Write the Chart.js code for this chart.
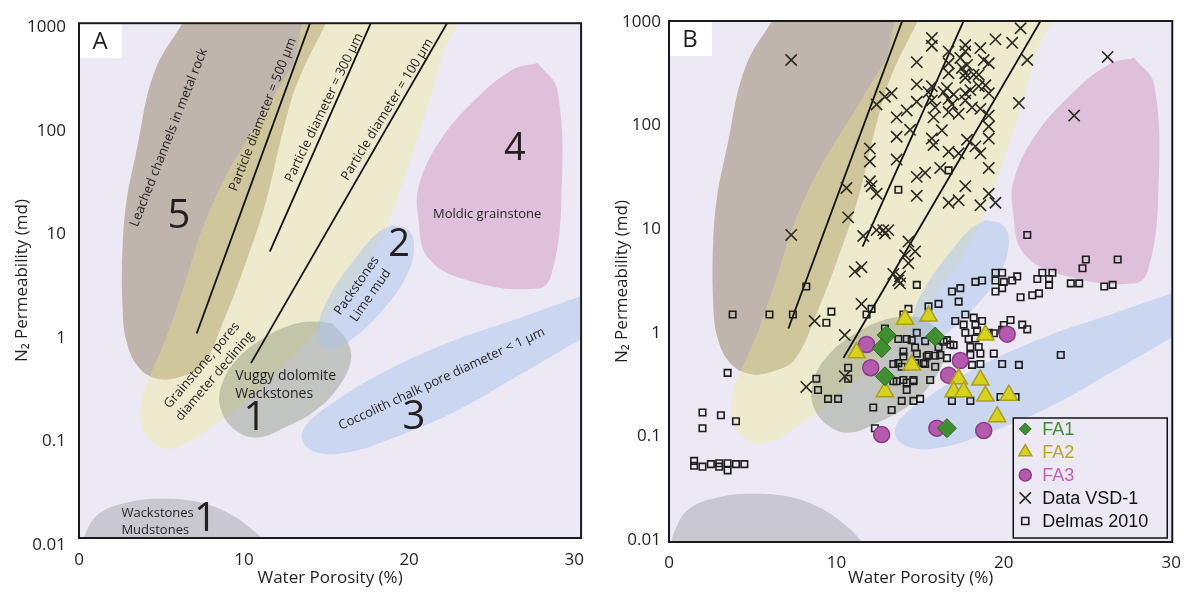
<!DOCTYPE html>
<html>
<head>
<meta charset="utf-8">
<script src="https://cdn.jsdelivr.net/npm/chart.js@4.4.1/dist/chart.umd.min.js"></script>
<style>
  html, body { margin: 0; padding: 0; background: #fff; }
  #wrap { position: relative; width: 1192px; height: 592px; }
  .panel { position: absolute; top: 0; width: 596px; height: 592px; }
  #panelA { left: 0; }
  #panelB { left: 596px; }
</style>
</head>
<body>
<div id="wrap">
  <div class="panel" id="panelA"><canvas id="chartA"></canvas></div>
  <div class="panel" id="panelB"><canvas id="chartB"></canvas></div>
</div>
<script>
// axis ticks
const porosityTicks = [0, 10, 20, 30];
const permeabilityTicks = [0.01, 0.1, 1, 10, 100, 1000];

// field outlines, [water porosity %, N2 permeability md]
const leachedChannels = [[6.35,1150],[4.55,362],[3.47,62],[2.87,20.5],[2.63,6.8],[2.63,2.2],[2.87,0.93],[3.65,0.51],[4.85,0.40],[6.35,0.43],[7.54,0.56],[8.92,1.69],[10.12,5.4],[11.32,20.5],[12.34,96],[13.23,290],[15.03,1150]];
const grainstoneBand = [[13.53,1150],[22.69,1150],[22.04,562],[21.2,187],[20.24,62],[19.22,20.5],[17.9,6.8],[15.93,2.35],[13.83,0.93],[10.84,0.31],[8.14,0.142],[6.05,0.089],[4.85,0.089],[3.83,0.136],[3.77,0.25],[4.25,0.41],[5.27,0.99],[6.05,2.24],[8.14,20.5],[11.56,187],[13.05,452]];
const vuggyDolomite = [[15.33,1.38],[16.23,0.93],[16.47,0.60],[15.63,0.32],[14.31,0.198],[12.46,0.136],[10.84,0.109],[9.52,0.127],[8.62,0.198],[8.62,0.343],[9.64,0.64],[11.56,1.08],[13.23,1.38],[14.43,1.44],[15.33,1.38]];
const packstones = [[18.92,12.3],[19.94,11.0],[20.30,7.6],[19.82,3.9],[18.32,1.8],[16.53,0.97],[15.33,0.78],[14.55,0.89],[14.55,1.44],[15.33,2.8],[16.83,6.1],[18.02,10.1],[18.92,12.3]];
const coccolithChalk = [[31.2,2.8],[26.59,1.54],[22.63,0.93],[18.62,0.48],[15.63,0.25],[13.83,0.148],[13.53,0.102],[14.43,0.078],[16.23,0.078],[18.62,0.102],[22.63,0.189],[26.59,0.43],[31.2,1.16]];
const moldicGrainstone = [[27.78,452],[28.98,248],[29.22,20.5],[28.62,4.07],[27.78,2.99],[23.83,3.49],[21.2,5.8],[20.54,15.3],[20.6,29.8],[21.8,77],[23.83,187],[26.23,386],[27.78,452]];
const mudstones = [[0,0.0072],[0.36,0.0125],[1.26,0.0203],[3.05,0.026],[5.03,0.028],[7.25,0.026],[9.04,0.0203],[10.54,0.0139],[11.44,0.01],[12.04,0.0072]];

// particle diameter lines
const line500 = [[7.13,1.1],[14.13,1250]];
const line300 = [[11.56,6.8],[17.84,1250]];
const line100 = [[10.42,0.57],[22.51,1250]];

// facies associations
const fa1Porosity = [13.0, 12.7, 15.9, 12.9, 16.6];
const fa1Perm = [0.95, 0.71, 0.92, 0.38, 0.12];
const fa2Porosity = [11.2, 14.1, 15.5, 14.5, 12.9, 18.9, 17.3, 17.0, 17.6, 18.6, 18.9, 20.3, 19.6];
const fa2Perm = [0.64, 1.35, 1.45, 0.49, 0.27, 0.95, 0.36, 0.27, 0.27, 0.35, 0.245, 0.25, 0.155];
const fa3Porosity = [11.8, 12.05, 17.4, 16.7, 20.2, 16.0, 12.7, 18.8];
const fa3Perm = [0.77, 0.46, 0.54, 0.39, 0.97, 0.12, 0.104, 0.114];

// Data VSD-1
const vsdPoints = [[7.3,430],[7.3,8.8],[12.0,60],[12.0,45],[12.0,29],[12.1,26],[12.4,22],[10.6,25],[10.7,13],[11.6,8.6],[12.4,9.8],[12.8,9.8],[12.9,9.1],[11.1,3.9],[11.5,4.3],[12.4,160],[12.9,190],[13.3,205],[13.6,120],[13.6,78],[13.6,47],[13.4,3.7],[13.7,3.2],
  [15.7,700],[15.7,590],[14.8,410],[16.7,520],[16.7,400],[16.7,320],[17.7,600],[17.7,520],[17.7,320],[17.7,290],[18.6,560],[19.5,680],[20.5,630],[21.0,870],[21.4,430],[19.1,400],
  [14.8,250],[15.7,240],[16.7,180],[16.9,160],[15.7,175],[15.9,150],[14.8,170],[14.2,140],[14.4,91],[15.8,120],[16.3,90],[16.7,135],[17.3,130],[17.7,175],[18.1,150],[18.5,240],[18.9,245],[19.1,205],[18.6,145],[19.1,125],
  [15.7,75],[15.8,65],[16.7,56],[17.3,54],[17.8,73],[18.3,63],[18.6,54],[19.1,98],[19.1,75],[17.7,205],
  [16.2,39],[15.3,35],[14.8,32],[14.8,21],[16.7,18],[17.3,19],[17.7,26],[19.1,39],[19.1,22],[18.6,17],[19.5,18],[20.9,165],
  [14.3,7.6],[14.7,6.1],[14.1,5.6],[26.2,460],[24.2,125],[13.8,3.5],[14.3,4.7],[13.1,9.8],[13.8,3.0],[11.5,1.9],[10.5,0.95],[10.5,0.38],[8.7,1.3],[8.2,0.3],
  [17.4,450],[17.8,385],[17.5,360],[16.4,210],[16.6,230],[17.0,200],[18.2,310],[18.5,310],[18.0,220],[15.5,210],[18.8,430]];

// Delmas 2010
const delmasPoints = [[1.5,0.058],[1.5,0.052],[2.0,0.051],[2.5,0.054],[3.0,0.055],[3.0,0.051],[3.5,0.055],[3.5,0.047],[4.0,0.054],[4.5,0.054],
  [2.0,0.17],[3.1,0.16],[2.0,0.12],[4.0,0.14],[3.5,0.41],
  [3.8,1.5],[6.0,1.5],[7.4,1.5],[8.2,2.8],[9.7,1.6],[9.4,1.25],[11.8,1.5],[12.1,1.7],[12.9,1.1],
  [10.7,0.46],[10.7,0.36],[8.8,0.36],[8.9,0.28],[9.5,0.23],[10.1,0.23],[12.2,0.19],[13.3,0.18],[13.4,0.50],[13.4,0.34],[12.3,0.12],
  [13.7,24],[16.7,37],[21.4,8.8],[14.8,2.9],[23.4,0.61],[20.9,0.49],
  [16.9,2.5],[17.4,2.7],[18.3,3.1],[18.7,3.2],[19.5,3.8],[19.9,3.8],[19.5,3.2],[20.0,3.1],[19.9,2.7],[19.5,2.5],[20.5,3.2],[20.8,3.5],[21.0,2.2],[21.7,2.3],[22.1,2.4],[22.0,3.3],[22.3,3.8],[22.9,3.8],[22.7,3.3],[22.7,2.9],[24.0,3.0],[24.5,3.0],[24.7,4.2],[24.9,5.1],[26.0,2.8],[26.5,2.9],[26.8,5.1],
  [20.4,1.33],[21.1,1.2],[21.4,1.08],[19.9,1.07],
  [14.0,1.5],[14.3,1.7],[15.5,1.8],[16.1,1.9],[17.3,2.0],
  [17.1,1.3],[17.7,1.5],[18.2,1.4],[18.7,1.3],[17.6,1.2],[17.7,1.0],[18.4,1.05],[18.3,1.19],
  [17.9,0.87],[18.3,0.88],[19.1,1.0],[19.4,0.99],[20.0,1.19],[20.0,1.02],
  [16.6,0.85],[17.0,0.76],[18.0,0.73],[18.5,0.73],[18.0,0.61],[18.6,0.63],[19.4,0.63],[19.9,0.50],[18.6,0.50],[18.1,0.49],
  [14.0,0.66],[14.8,0.63],[15.5,0.61],[16.2,0.61],[15.2,0.51],[14.7,0.51],[13.7,0.51],
  [14.0,0.35],[14.6,0.35],[15.6,0.35],[14.2,0.28],[13.9,0.22],[14.6,0.22],[15.0,0.23],[16.9,0.22],[18.0,0.22],
  [14.5,0.85],[14.8,1.0],[13.7,0.87],[14.2,0.87],
  [15.3,0.83],[16.8,0.77],[16.4,0.82],[16.1,0.73],[14.7,0.72],[15.4,0.59],[15.9,0.6],[16.6,0.57],[15.3,0.5],[15.9,0.47],[14.0,0.59],[13.9,0.47],[14.2,0.33],[14.6,0.34],[13.6,0.34],
  [19.8,0.24],[20.7,0.24]];

const FONT = "'Open Sans', 'Noto Sans', sans-serif";
const INK = '#231f20';
const PLOT_BG = '#ece9f5';
Chart.defaults.font.family = FONT;

function toXY(pairs) { return pairs.map(p => ({x: p[0], y: p[1]})); }
function zip(xs, ys) { return xs.map((x, i) => ({x: x, y: ys[i]})); }

function regionSet(pairs, color, order) {
  return {
    data: toXY(pairs), showLine: true, fill: 'shape', backgroundColor: color,
    borderColor: 'rgba(0,0,0,0)', borderWidth: 0, pointRadius: 0, pointHoverRadius: 0,
    tension: 0.4, capBezierPoints: false, order: order
  };
}

function lineSet(pairs) {
  return {
    data: toXY(pairs), showLine: true, fill: false, borderColor: '#111', borderWidth: 1.8,
    pointRadius: 0, pointHoverRadius: 0, tension: 0, order: 10
  };
}

function fieldDatasets() {
  return [
    regionSet(leachedChannels, '#c0b5ac', 30),
    regionSet(grainstoneBand, 'rgba(243,240,115,0.3)', 29),
    regionSet(vuggyDolomite, 'rgba(125,138,108,0.38)', 28),
    regionSet(packstones, 'rgba(170,195,235,0.5)', 27),
    regionSet(coccolithChalk, 'rgba(170,195,235,0.5)', 26),
    regionSet(moldicGrainstone, '#dec0da', 25),
    regionSet(mudstones, '#c9c7cf', 24),
    lineSet(line500), lineSet(line300), lineSet(line100)
  ];
}

const markerSets = [
  {label: 'FA1', data: zip(fa1Porosity, fa1Perm), pointStyle: 'rectRot', pointRadius: 9.5,
   backgroundColor: '#3f8e30', borderColor: '#2e6b24', borderWidth: 1, order: 1,
   keyColor: '#3c8f2f', keyRadius: 6},
  {label: 'FA2', data: zip(fa2Porosity, fa2Perm), pointStyle: 'triangle', pointRadius: 10,
   backgroundColor: '#d7d21c', borderColor: '#a99e1e', borderWidth: 1.5, order: 2,
   keyColor: '#b9aa18', keyRadius: 7.5},
  {label: 'FA3', data: zip(fa3Porosity, fa3Perm), pointStyle: 'circle', pointRadius: 8,
   backgroundColor: '#b45bae', borderColor: '#8c3a88', borderWidth: 1.5, order: 3,
   keyColor: '#c264b6', keyRadius: 6},
  {label: 'Data VSD-1', data: toXY(vsdPoints), pointStyle: 'crossRot', pointRadius: 8,
   backgroundColor: 'rgba(0,0,0,0)', borderColor: '#2b2a22', borderWidth: 1.6, order: 4,
   keyColor: '#111', keyRadius: 8},
  {label: 'Delmas 2010', data: toXY(delmasPoints), pointStyle: 'rect', pointRadius: 4.6,
   backgroundColor: 'rgba(0,0,0,0)', borderColor: '#1d1d1d', borderWidth: 1.6, order: 5,
   keyColor: '#111', keyRadius: 5}
];

// text written in the fields of panel A
const notesA = [
  {lines: ['Leached channels in metal rock'], x: 5.45, y: 86, angle: -68.5, size: 13},
  {lines: ['5'], x: 6.05, y: 14.7, angle: 0, size: 40},
  {lines: ['Particle diameter = 500 µm'], x: 11.14, y: 143, angle: -68.6, size: 13},
  {lines: ['Particle diameter = 300 µm'], x: 14.85, y: 167, angle: -64.3, size: 13},
  {lines: ['Particle diameter = 100 µm'], x: 18.68, y: 160, angle: -58.5, size: 13},
  {lines: ['4'], x: 26.41, y: 66, angle: 0, size: 38},
  {lines: ['Moldic grainstone'], x: 24.73, y: 15.7, angle: 0, size: 13},
  {lines: ['2'], x: 19.4, y: 7.9, angle: 0, size: 38},
  {lines: ['Packstones', 'Lime mud'], x: 17.25, y: 2.86, angle: -55, size: 13},
  {lines: ['Grainstone, pores', 'diameter declining'], x: 7.84, y: 0.48, angle: -49.5, size: 13},
  {lines: ['Vuggy dolomite', 'Wackstones'], x: 9.46, y: 0.35, angle: 0, size: 14, align: 'left'},
  {lines: ['1'], x: 10.66, y: 0.166, angle: 0, size: 40},
  {lines: ['Coccolith chalk pore diameter < 1 µm'], x: 21.98, y: 0.40, angle: -25, size: 13},
  {lines: ['3'], x: 20.3, y: 0.17, angle: 0, size: 40},
  {lines: ['Wackstones', 'Mudstones'], x: 2.57, y: 0.0168, angle: 0, size: 13, align: 'left'},
  {lines: ['1'], x: 7.66, y: 0.0174, angle: 0, size: 40}
];

function makeDecor(cfg) {
  return {
    id: 'decor' + cfg.letter,
    beforeDraw(chart) {
      const a = chart.chartArea, ctx = chart.ctx;
      ctx.save();
      ctx.fillStyle = PLOT_BG;
      ctx.fillRect(a.left, a.top, a.right - a.left, a.bottom - a.top);
      ctx.restore();
    },
    afterDatasetsDraw(chart) {
      const ctx = chart.ctx, xs = chart.scales.x, ys = chart.scales.y;
      (cfg.notes || []).forEach(n => {
        const px = xs.getPixelForValue(n.x), py = ys.getPixelForValue(n.y);
        const lh = n.size * 1.3;
        ctx.save();
        ctx.translate(px, py);
        ctx.rotate(n.angle * Math.PI / 180);
        ctx.fillStyle = INK;
        ctx.font = n.size + 'px ' + FONT;
        ctx.textAlign = n.align || 'center';
        ctx.textBaseline = 'middle';
        n.lines.forEach((t, i) => {
          ctx.fillText(t, 0, (i - (n.lines.length - 1) / 2) * lh);
        });
        ctx.restore();
      });
    },
    afterDraw(chart) {
      const a = chart.chartArea, ctx = chart.ctx;
      ctx.save();
      // panel letter
      ctx.fillStyle = '#fff';
      ctx.fillRect(a.left + 1, a.top + 1, 42, 34);
      ctx.fillStyle = INK;
      ctx.font = '24px ' + FONT;
      ctx.textAlign = 'center';
      ctx.textBaseline = 'middle';
      ctx.fillText(cfg.letter, a.left + 21, a.top + 19);
      // legend
      if (cfg.legend) {
        const w = 154, h = 120;
        const bx = a.right - 5 - w, by = a.bottom - 4 - h;
        ctx.fillStyle = PLOT_BG;
        ctx.fillRect(bx, by, w, h);
        ctx.strokeStyle = '#111';
        ctx.lineWidth = 1.5;
        ctx.strokeRect(bx, by, w, h);
        const sets = chart.data.datasets.filter(d => d.keyColor);
        sets.forEach((d, i) => {
          const cy = by + 11 + i * 23;
          ctx.fillStyle = d.backgroundColor;
          ctx.strokeStyle = d.borderColor;
          ctx.lineWidth = d.borderWidth;
          Chart.helpers.drawPoint(ctx, {pointStyle: d.pointStyle, radius: d.keyRadius, rotation: 0, borderWidth: d.borderWidth}, bx + 12, cy);
          ctx.fillStyle = d.keyColor;
          ctx.font = "18px 'Liberation Sans', Arial, sans-serif";
          ctx.textAlign = 'left';
          ctx.textBaseline = 'middle';
          ctx.fillText(d.label, bx + 29, cy + 1);
        });
      }
      // frame
      ctx.strokeStyle = '#1a1a1a';
      ctx.lineWidth = 2;
      ctx.strokeRect(a.left, a.top, a.right - a.left, a.bottom - a.top);
      ctx.restore();
    }
  };
}

function buildPanel(canvasId, cfg, datasets) {
  const tickFont = {family: FONT, size: 17};
  return new Chart(document.getElementById(canvasId), {
    type: 'scatter',
    data: {datasets: datasets},
    options: {
      responsive: true,
      maintainAspectRatio: false,
      animation: false,
      devicePixelRatio: 1,
      events: [],
      layout: {padding: cfg.padding},
      plugins: {legend: {display: false}, tooltip: {enabled: false}},
      scales: {
        x: {
          type: 'linear', min: 0, max: cfg.xMax,
          grid: {display: false, drawTicks: false}, border: {display: false},
          afterBuildTicks: ax => { ax.ticks = porosityTicks.map(v => ({value: v})); },
          afterFit: ax => { ax.height = cfg.xHeight; },
          ticks: {autoSkip: false, maxRotation: 0, padding: cfg.xTickPad, color: INK, font: tickFont},
          title: {display: true, text: 'Water Porosity (%)', color: INK, font: tickFont, padding: {top: 4, bottom: 4}}
        },
        y: {
          type: 'logarithmic', min: cfg.yMin, max: cfg.yMax,
          grid: {display: false, drawTicks: false}, border: {display: false},
          afterBuildTicks: ax => { ax.ticks = permeabilityTicks.map(v => ({value: v})); },
          afterFit: ax => { ax.width = cfg.yWidth; },
          ticks: {autoSkip: false, padding: cfg.yTickPad, color: INK, font: tickFont, callback: v => String(v)},
          title: {display: true, text: 'N₂ Permeability (md)', color: INK, font: tickFont, padding: {top: cfg.yTitlePad, bottom: 4}}
        }
      }
    },
    plugins: [makeDecor(cfg)]
  });
}

buildPanel('chartA', {
  letter: 'A', notes: notesA, legend: false,
  padding: {left: 0, top: 20, right: 9, bottom: 0},
  xMax: 30.42, yMin: 0.01167, yMax: 1092.5,
  xHeight: 54, yWidth: 79, xTickPad: 12, yTickPad: 13, yTitlePad: 12
}, fieldDatasets());

buildPanel('chartB', {
  letter: 'B', notes: [], legend: true,
  padding: {left: 0, top: 21, right: 15, bottom: 0},
  xMax: 30.06, yMin: 0.00956, yMax: 1022.5,
  xHeight: 50, yWidth: 73, xTickPad: 11, yTickPad: 8, yTitlePad: 16
}, markerSets.concat(fieldDatasets()));
</script>
</body>
</html>
